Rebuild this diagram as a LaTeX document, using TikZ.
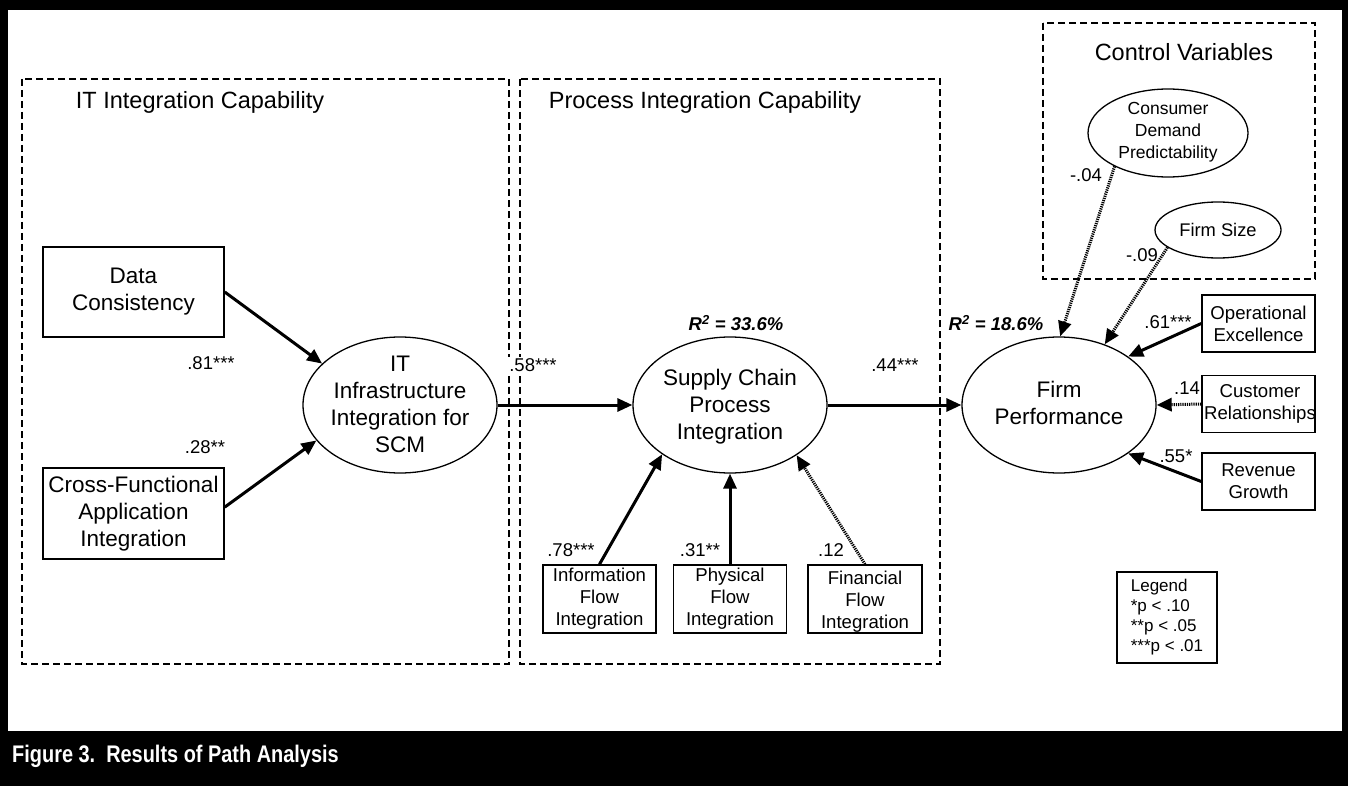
\documentclass[tikz,border=0pt]{standalone}
\usepackage{fontspec}
\setmainfont{Liberation Sans}
\newfontfamily\capfont{Liberation Sans}[FakeStretch=0.83]
\usetikzlibrary{shapes.geometric,arrows.meta}
\begin{document}
\begin{tikzpicture}[x=1pt,y=-1pt,
  box/.style={draw, rectangle, line width=1.5pt, inner sep=0pt},
  ell/.style={draw, ellipse, line width=1.3pt, inner sep=0pt},
  bigtxt/.style={font=\fontsize{22.5}{27}\selectfont, align=center},
  smtxt/.style={font=\fontsize{18.6}{22}\selectfont, align=center},
  ctltxt/.style={font=\fontsize{17.5}{22}\selectfont, align=center},
  coef/.style={font=\fontsize{18.5}{22}\selectfont, inner sep=0pt},
  rsq/.style={font=\fontsize{18.5}{22}\selectfont\bfseries\itshape, inner sep=0pt},
  ttl/.style={font=\fontsize{23.5}{28}\selectfont, inner sep=0pt},
  dashbox/.style={line width=2pt, dash pattern=on 7pt off 4pt},
  solidarrow/.style={line width=3pt, -{Triangle[length=15pt,width=13pt]}},
  dotarrow/.style={line width=3pt, dash pattern=on 1.2pt off 1pt, -{Triangle[length=15pt,width=13pt]}}
]
\useasboundingbox (0,0) rectangle (1348,786);
% frame
\fill[black] (0,0) rectangle (1348,786);
\fill[white] (8,10) rectangle (1342,731);
\node[anchor=base west, text=white, inner sep=0pt, font=\capfont\bfseries\fontsize{24}{28}\selectfont] (cap) at (12,762) {Figure 3.\ \ Results of Path Analysis};

% dashed group boxes
\draw[dashbox] (22,79) rectangle (509,664);
\draw[dashbox] (520,79) rectangle (940,664);
\draw[dashbox] (1043,23) rectangle (1315,279);
\node[ttl] (t1) at (200,102) {IT Integration Capability};
\node[ttl] (t2) at (705,102) {Process Integration Capability};
\node[ttl] (t3) at (1184,52) {Control Variables};

% left nodes
\node[box, minimum width=181, minimum height=90, bigtxt] (dc) at (133.5,292) {Data\\Consistency};
\node[box, minimum width=181, minimum height=91, bigtxt] (cf) at (133.5,513.5) {Cross-Functional\\Application\\Integration};

% latent ellipses
\node[ell, minimum width=194, minimum height=136] (it) at (400,405) {};
\node[bigtxt] (itT) at (400,404) {IT\\Infrastructure\\Integration for\\SCM};
\node[ell, minimum width=194, minimum height=136] (scp) at (730,405) {};
\node[bigtxt] (scpT) at (730,407) {Supply Chain\\Process\\Integration};
\node[ell, minimum width=194, minimum height=136] (fp) at (1059,405) {};
\node[bigtxt] (fpT) at (1059,403) {Firm\\Performance};

% control variables
\node[ell, minimum width=160, minimum height=88] (cdp) at (1168,133) {};
\node[ctltxt] (cdpT) at (1168,132) {Consumer\\Demand\\Predictability};
\node[ell, minimum width=126, minimum height=56] (fs) at (1218,230) {};
\node[ctltxt, font=\fontsize{18.3}{22}\selectfont] (fsT) at (1218,230) {Firm Size};

% process flow boxes
\node[box, minimum width=113, minimum height=68, smtxt] (ifi) at (599.5,599) {Information\\Flow\\Integration};
\node[box, minimum width=113, minimum height=68, smtxt] (pfi) at (730,599) {Physical\\Flow\\Integration};
\node[box, minimum width=114, minimum height=68] (ffi) at (865,599) {};
\node[smtxt] (ffiT) at (865,602) {Financial\\Flow\\Integration};

% firm performance indicators
\node[box, minimum width=113, minimum height=57, smtxt] (oe) at (1258.5,323.5) {Operational\\Excellence};
\node[box, minimum width=113, minimum height=57] (cr) at (1258.5,404) {};
\node[smtxt, anchor=center] (crT) at (1260,404) {Customer\\Relationships};
\node[box, minimum width=113, minimum height=57, smtxt] (rg) at (1258.5,481.5) {Revenue\\Growth};

% legend
\node[box, minimum width=100, minimum height=91, align=left, font=\fontsize{17}{20}\selectfont] (leg) at (1167,617.5) {Legend\\{}*p < .10\\{}**p < .05\\{}***p < .01};

% connectors
\draw[solidarrow] (dc.east) -- (it.152);
\draw[solidarrow] (cf.4) -- (it.203);
\draw[solidarrow] (it.east) -- (scp.west);
\draw[solidarrow] (scp.east) -- (fp.west);
\draw[solidarrow] (ifi.north) -- (scp.216);
\draw[solidarrow] (pfi.north) -- (scp.south);
\draw[dotarrow] (ffi.north) -- (scp.323);
\draw[dotarrow] (cdp.212) -- (fp.89);
\draw[dotarrow] (fs.199) -- (fp.53);
\draw[solidarrow] (oe.west) -- (fp.35);
\draw[dotarrow] (cr.west) -- (fp.east);
\draw[solidarrow] (rg.west) -- (fp.-35);

% coefficients
\node[coef] (c81) at (211,363) {.81***};
\node[coef] (c28) at (205,447) {.28**};
\node[coef, fill=white, inner sep=1pt] (c58) at (533,365) {.58***};
\node[coef] (c44) at (895,365) {.44***};
\node[coef] (c78) at (571,550) {.78***};
\node[coef] (c31) at (700,550) {.31**};
\node[coef] (c12) at (831,550) {.12};
\node[coef] (c04) at (1086,175) {-.04};
\node[coef] (c09) at (1142,255) {-.09};
\node[coef] (c61) at (1168,322) {.61***};
\node[coef] (c14) at (1187,388) {.14};
\node[coef] (c55) at (1176,456) {.55*};
\node[rsq] (r1) at (736,323) {R\textsuperscript{2} = 33.6\%};
\node[rsq] (r2) at (996,323) {R\textsuperscript{2} = 18.6\%};
\end{tikzpicture}
\end{document}
